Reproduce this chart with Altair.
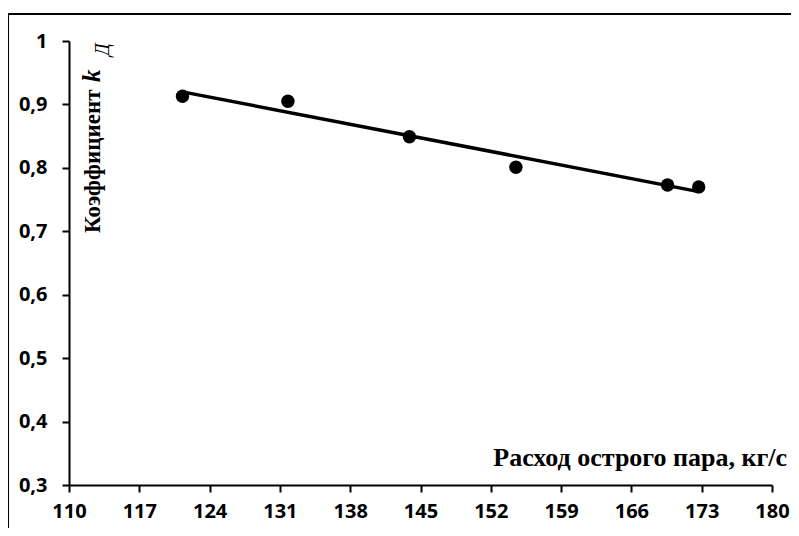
import altair as alt
import pandas as pd

flow = [121.3, 131.8, 143.9, 154.5, 169.6, 172.7]
coef = [0.913, 0.905, 0.849, 0.801, 0.773, 0.770]
x_ticks = [110, 117, 124, 131, 138, 145, 152, 159, 166, 173, 180]
y_ticks = [0.3, 0.4, 0.5, 0.6, 0.7, 0.8, 0.9, 1.0]

df = pd.DataFrame({"x": flow, "y": coef})

W, H = 703, 444
SANS = "Open Sans"
SERIF = "Liberation Serif"

xs = alt.X("x:Q", scale=alt.Scale(domain=[110, 180], nice=False, zero=False),
           axis=alt.Axis(values=x_ticks, title=None, grid=False, domainColor="black",
                         domainWidth=2, tickColor="black", tickWidth=2, tickSize=7,
                         labelFont=SANS, labelFontWeight="bold", labelFontSize=20,
                         labelColor="black", labelPadding=9, labelFlush=False))
ys = alt.Y("y:Q", scale=alt.Scale(domain=[0.3, 1.0], nice=False, zero=False),
           axis=alt.Axis(values=y_ticks, title=None, grid=False, domainColor="black",
                         domainWidth=2, tickColor="black", tickWidth=2, tickSize=7,
                         labelFont=SANS, labelFontWeight="bold", labelFontSize=20,
                         labelColor="black", labelPadding=15, labelFlush=False,
                         labelExpr="datum.value == 1 ? '1' : replace(format(datum.value, '.1f'), '.', ',')"))

base = alt.Chart(df)
points = base.mark_circle(size=180, color="black", opacity=1).encode(x=xs, y=ys)
trend = base.transform_regression("x", "y").mark_line(color="black", strokeWidth=3.5).encode(x=xs, y=ys)

one = pd.DataFrame({"a": [0]})
txt = alt.Chart(one)
xtitle = txt.mark_text(text="Расход острого пара, кг/с", font=SERIF, fontWeight="bold",
                       fontSize=26, align="right", baseline="alphabetic", color="black").encode(
    x=alt.value(718), y=alt.value(425))
ytitle1 = txt.mark_text(text="Коэффициент", font=SERIF, fontWeight="bold", fontSize=23,
                        align="left", baseline="alphabetic", angle=270, color="black").encode(
    x=alt.value(31), y=alt.value(192))
ytitle2 = txt.mark_text(text="k", font=SERIF, fontWeight="bold", fontStyle="italic", fontSize=25,
                        align="left", baseline="alphabetic", angle=270, color="black").encode(
    x=alt.value(31), y=alt.value(41))
ytitle3 = txt.mark_text(text="Д", font=SERIF, fontStyle="italic", fontSize=20,
                        align="left", baseline="alphabetic", angle=270, color="black").encode(
    x=alt.value(40), y=alt.value(15))

border_left = txt.mark_rule(color="black", strokeWidth=2).encode(
    x=alt.value(-61), y=alt.value(-27), y2=alt.value(520))
border_top = txt.mark_rule(color="black", strokeWidth=2).encode(
    x=alt.value(-61), x2=alt.value(740), y=alt.value(-27))

chart = alt.layer(trend, points, xtitle, ytitle1, ytitle2, ytitle3, border_left, border_top).properties(
    width=W, height=H,
    autosize=alt.AutoSizeParams(type="none"),
    padding={"left": 61, "top": 33, "right": 19, "bottom": 43},
    background="white",
).configure_view(stroke=None)

chart.save("out.html", embed_options={"renderer": "svg", "actions": False})
